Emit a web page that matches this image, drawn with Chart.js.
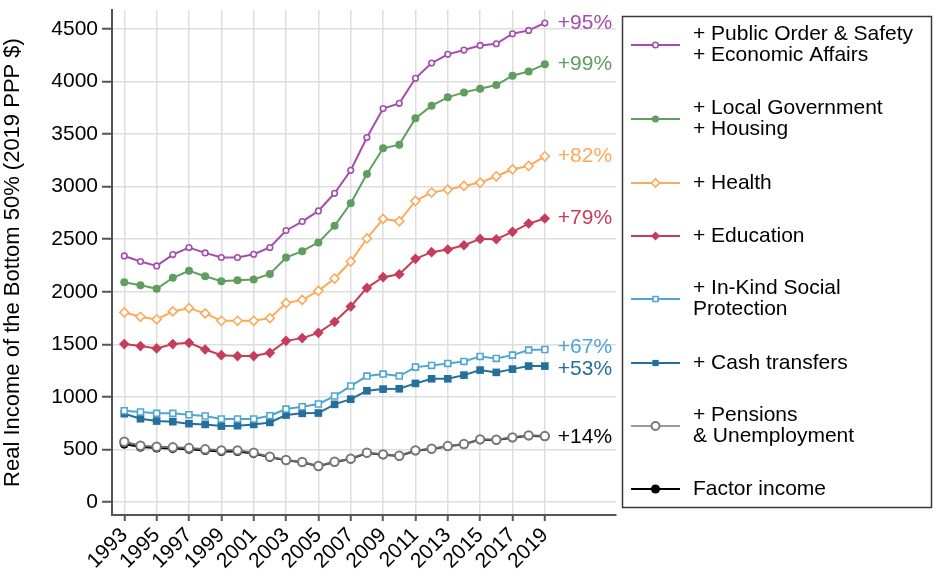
<!DOCTYPE html>
<html>
<head>
<meta charset="utf-8">
<script src="https://cdn.jsdelivr.net/npm/chart.js@4.4.0/dist/chart.umd.min.js"></script>
<style>
    html, body { margin: 0; padding: 0; background: #fff; }
    #wrap { width: 940px; height: 583px; }
</style>
</head>
<body>
<div id="wrap"><canvas id="chart" width="940" height="583"></canvas></div>
<script>
const years = [1993, 1994, 1995, 1996, 1997, 1998, 1999, 2000, 2001, 2002, 2003, 2004, 2005, 2006,
               2007, 2008, 2009, 2010, 2011, 2012, 2013, 2014, 2015, 2016, 2017, 2018, 2019];
const xTickYears = [1993, 1995, 1997, 1999, 2001, 2003, 2005, 2007, 2009, 2011, 2013, 2015, 2017, 2019];
const yTickValues = [0, 500, 1000, 1500, 2000, 2500, 3000, 3500, 4000, 4500];

const publicOrder = [2341, 2288, 2246, 2354, 2421, 2370, 2326, 2326, 2357, 2421, 2583, 2668, 2769, 2937,
                     3156, 3467, 3743, 3793, 4031, 4176, 4259, 4300, 4344, 4360, 4455, 4487, 4557];
const localGov = [2091, 2063, 2028, 2133, 2199, 2148, 2101, 2110, 2117, 2170, 2326, 2386, 2469, 2627,
                  2842, 3121, 3365, 3400, 3650, 3771, 3850, 3897, 3932, 3967, 4056, 4097, 4164];
const health = [1803, 1762, 1737, 1813, 1844, 1794, 1724, 1724, 1724, 1749, 1892, 1923, 2009, 2126,
                2288, 2507, 2693, 2671, 2864, 2944, 2972, 3007, 3039, 3099, 3165, 3197, 3289];
const education = [1502, 1483, 1461, 1502, 1514, 1451, 1397, 1388, 1388, 1419, 1533, 1559, 1609, 1714,
                   1860, 2037, 2139, 2167, 2313, 2377, 2402, 2443, 2503, 2500, 2570, 2649, 2697];
const inKind = [868, 856, 843, 843, 830, 818, 789, 789, 789, 821, 884, 906, 932, 1008,
                1103, 1198, 1217, 1198, 1283, 1299, 1318, 1337, 1385, 1366, 1397, 1445, 1451];
const cash = [840, 792, 770, 764, 745, 738, 722, 726, 738, 757, 827, 843, 846, 929,
              978, 1058, 1074, 1077, 1128, 1172, 1172, 1207, 1255, 1233, 1264, 1293, 1293];
const pensions = [573, 535, 526, 520, 513, 501, 491, 491, 469, 431, 399, 380, 342, 383,
                  412, 469, 453, 440, 491, 507, 532, 551, 596, 592, 615, 634, 627];
const factorIncome = [551, 522, 514, 508, 502, 490, 480, 480, 460, 425, 396, 377, 339, 380,
                      409, 466, 450, 437, 488, 504, 529, 548, 593, 589, 612, 631, 624];

const seriesNames = [
    ['+ Public Order & Safety', '+ Economic Affairs'],
    ['+ Local Government', '+ Housing'],
    ['+ Health'],
    ['+ Education'],
    ['+ In-Kind Social', 'Protection'],
    ['+ Cash transfers'],
    ['+ Pensions', '& Unemployment'],
    ['Factor income']
];
const endLabels = ['+95%', '+99%', '+82%', '+79%', '+67%', '+53%', '+14%', ''];

const FONT = '"Liberation Sans", Arial, Helvetica, sans-serif';

// style per series: line colour, marker, fill
const styles = [
    { color: '#a64cae', point: 'circle',  radius: 2.8, fill: '#fff',    bw: 1.6, text: '#a64cae' },
    { color: '#5f9e5f', point: 'circle',  radius: 4,   fill: '#5f9e5f', bw: 0,   text: '#5f9e5f' },
    { color: '#fca95a', point: 'rectRot', radius: 4.5, fill: '#fff',    bw: 1.6, text: '#fca95a' },
    { color: '#c63d5c', point: 'rectRot', radius: 5.3, fill: '#c63d5c', bw: 0,   text: '#c63d5c' },
    { color: '#4ea6d1', point: 'rect',    radius: 4.2, fill: '#fff',    bw: 1.6, text: '#4ea6d1' },
    { color: '#256f9c', point: 'rect',    radius: 5.4, fill: '#256f9c', bw: 0,   text: '#256f9c' },
    { color: '#6a6a6a', point: 'circle',  radius: 4.2, fill: '#fff',    bw: 2,   text: '#000', border: '#787878' },
    { color: '#000000', point: 'circle',  radius: 4.6, fill: '#000',    bw: 0,   text: '#000' }
];
const legendStyles = [
    { line: '#a64cae', radius: 2.8 }, { line: '#5f9e5f', radius: 3.6 }, { line: '#fca95a', radius: 4 },
    { line: '#c63d5c', radius: 4.5 }, { line: '#4ea6d1', radius: 3.6 }, { line: '#256f9c', radius: 4.4 },
    { line: '#9a9a9a', radius: 4 },   { line: '#000000', radius: 4.6 }
];
const legendRowY = [45, 119, 183, 236, 299, 363, 426, 489];
const endLabelShift = [0, 0, 0, 0, -2, 3, 1, 0];

const allSeries = [publicOrder, localGov, health, education, inKind, cash, pensions, factorIncome];

const datasets = allSeries.map((values, i) => {
    const s = styles[i];
    return {
        label: seriesNames[i].join(' '),
        data: values.map((v, j) => ({ x: years[j], y: v })),
        borderColor: s.color,
        borderWidth: 2,
        pointStyle: s.point,
        pointRadius: s.radius,
        pointBackgroundColor: s.fill,
        pointBorderColor: s.border || s.color,
        pointBorderWidth: s.bw,
        tension: 0
    };
});

const endLabelPlugin = {
    id: 'endLabels',
    afterDatasetsDraw(chart) {
        const ctx = chart.ctx;
        ctx.save();
        ctx.font = '21px ' + FONT;
        ctx.textAlign = 'left';
        ctx.textBaseline = 'middle';
        endLabels.forEach((txt, i) => {
            if (!txt) return;
            const pts = chart.getDatasetMeta(i).data;
            const last = pts[pts.length - 1];
            ctx.fillStyle = styles[i].text;
            ctx.fillText(txt, last.x + 13, last.y + endLabelShift[i]);
        });
        ctx.restore();
    }
};

const legendPlugin = {
    id: 'sideLegend',
    afterDraw(chart) {
        const ctx = chart.ctx;
        ctx.save();
        ctx.strokeStyle = '#3a3a3a';
        ctx.lineWidth = 1.5;
        ctx.strokeRect(622.5, 16.5, 309, 491);
        ctx.font = '21px ' + FONT;
        ctx.textAlign = 'left';
        ctx.textBaseline = 'middle';
        seriesNames.forEach((lines, i) => {
            const y = legendRowY[i];
            const s = styles[i];
            const ls = legendStyles[i];
            ctx.strokeStyle = ls.line;
            ctx.lineWidth = 2;
            ctx.beginPath();
            ctx.moveTo(631, y);
            ctx.lineTo(680, y);
            ctx.stroke();
            ctx.fillStyle = s.fill;
            ctx.strokeStyle = i === 6 ? '#7a7a7a' : s.color;
            ctx.lineWidth = s.bw;
            Chart.helpers.drawPoint(ctx, { pointStyle: s.point, radius: ls.radius, rotation: 0, borderWidth: s.bw }, 655.5, y);
            ctx.fillStyle = '#000';
            const top = y - (lines.length - 1) * 10.5;
            lines.forEach((t, k) => ctx.fillText(t, 693, top + k * 21));
        });
        ctx.restore();
    }
};

new Chart(document.getElementById('chart'), {
    type: 'line',
    data: { datasets: datasets },
    plugins: [endLabelPlugin, legendPlugin],
    options: {
        responsive: false,
        animation: false,
        devicePixelRatio: 1,
        layout: { padding: { left: 0, right: 324, top: 10, bottom: 0 } },
        plugins: { legend: { display: false }, tooltip: { enabled: false } },
        scales: {
            x: {
                type: 'linear',
                min: 1992.24,
                max: 2023.4,
                afterBuildTicks: scale => { scale.ticks = xTickYears.map(v => ({ value: v })); },
                afterFit: scale => {
                    scale.height = 68;
                    scale.paddingLeft = 0;
                    scale.paddingRight = 0;
                },
                ticks: {
                    autoSkip: false,
                    minRotation: 45,
                    maxRotation: 45,
                    padding: 2,
                    color: '#000',
                    font: { size: 21, family: FONT },
                    callback: v => String(v)
                },
                grid: { color: '#dedede', lineWidth: 1.5, tickColor: '#555', tickLength: 6, tickWidth: 2 },
                border: { color: '#555', width: 2 }
            },
            y: {
                min: -124,
                max: 4681,
                afterBuildTicks: scale => { scale.ticks = yTickValues.map(v => ({ value: v })); },
                afterFit: scale => {
                    scale.width = 112;
                    scale.paddingTop = 0;
                    scale.paddingBottom = 0;
                },
                ticks: {
                    padding: 4,
                    color: '#000',
                    font: { size: 21, family: FONT },
                    callback: v => String(v)
                },
                grid: { color: '#dedede', lineWidth: 1.5, tickColor: '#555', tickLength: 10, tickWidth: 2 },
                border: { color: '#555', width: 2 },
                title: {
                    display: true,
                    text: 'Real Income of the Bottom 50% (2019 PPP $)',
                    color: '#000',
                    font: { size: 22, family: FONT },
                    padding: { top: 0, bottom: 0 }
                }
            }
        }
    }
});
</script>
</body>
</html>
